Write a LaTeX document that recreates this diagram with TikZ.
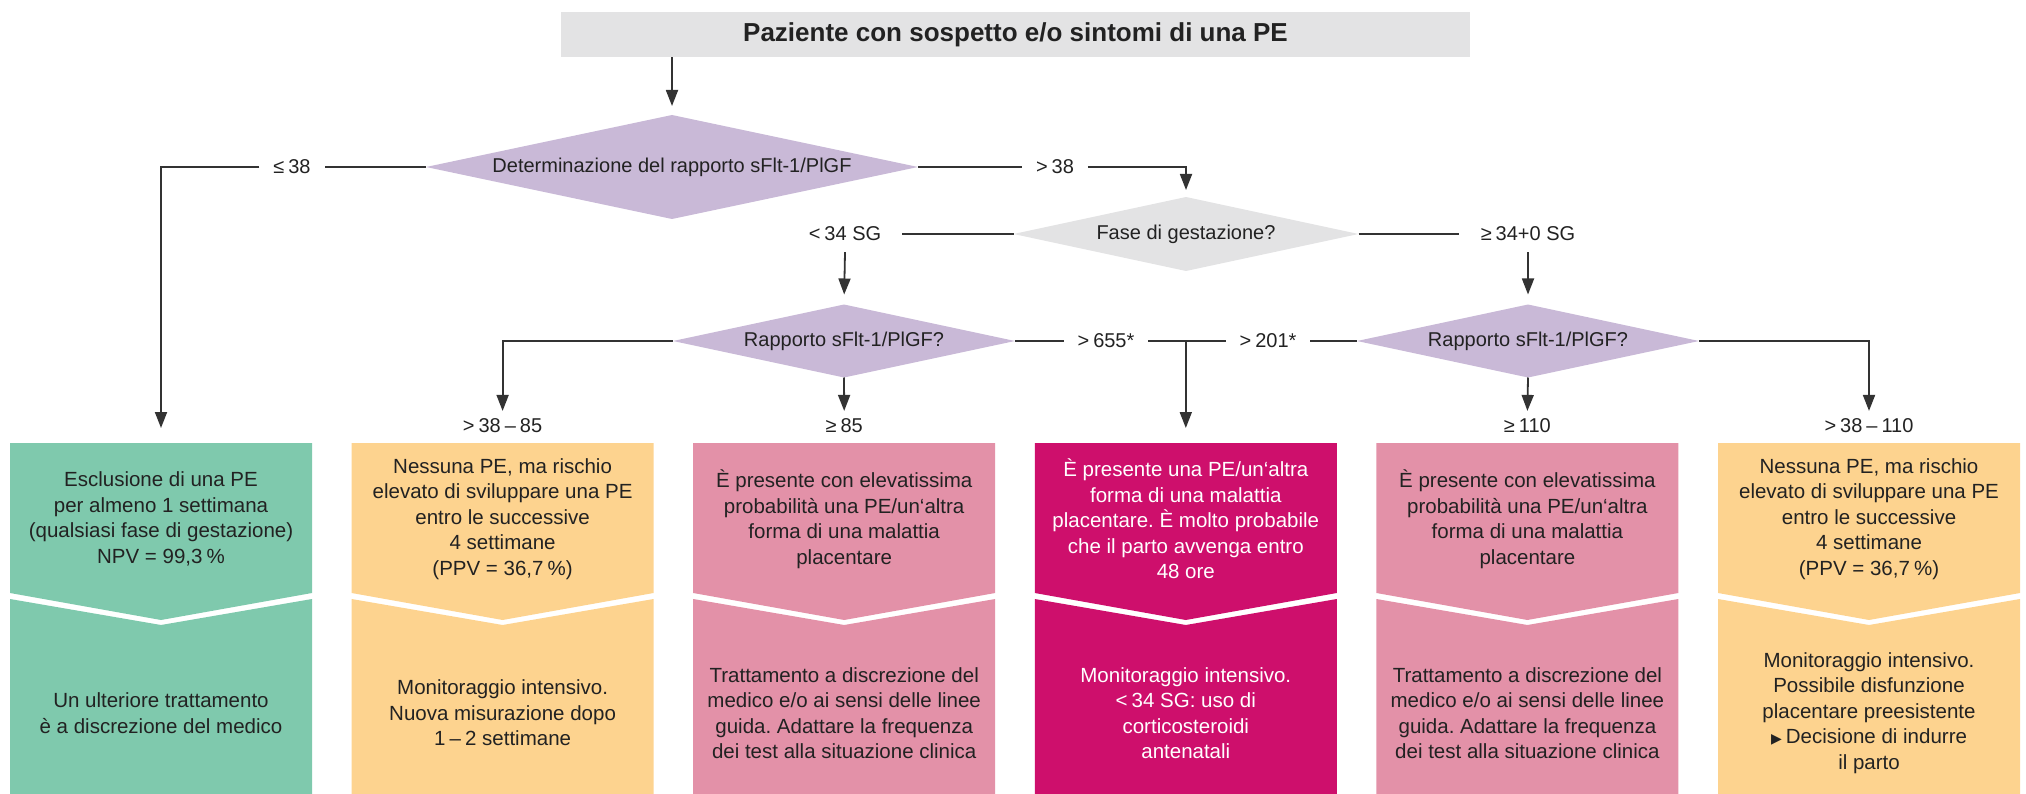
\documentclass[tikz,border=0pt]{standalone}
\usepackage{fontspec}
\setmainfont{Liberation Sans}
\newfontfamily\dejavu{DejaVu Sans}
\usetikzlibrary{shapes.geometric,arrows.meta}
\definecolor{cgreen}{HTML}{7FC9AD}
\definecolor{cyellow}{HTML}{FDD38F}
\definecolor{cpink}{HTML}{E391A8}
\definecolor{cmag}{HTML}{CE0F6C}
\definecolor{cpurple}{HTML}{C9B9D7}
\definecolor{cgray}{HTML}{E3E3E4}
\definecolor{cline}{HTML}{333333}
\definecolor{ctext}{HTML}{222222}
\newcommand\tsp{\hspace{0.2em}}
\frenchspacing
\begin{document}
\begin{tikzpicture}[x=1pt,y=-1pt,
  every node/.style={font=\fontsize{20}{25.5}\selectfont, text=ctext},
  dia/.style={diamond, aspect=5, inner sep=0pt, outer sep=0pt, draw=none},
  lbl/.style={inner xsep=14pt, inner ysep=8pt, outer sep=0pt},
  conn/.style={draw=cline, line width=1.8pt},
  arr/.style={conn, -{Triangle[length=16pt,width=12pt]}},
  boxtxt/.style={align=center, inner sep=0pt, font=\fontsize{20.5}{25.5}\selectfont},
]
\useasboundingbox (0,0) rectangle (2026,794);

% boxes
\foreach \i/\col in {0/cgreen,1/cyellow,2/cpink,3/cmag,4/cpink,5/cyellow} {
  \pgfmathsetmacro\L{10+341.6*\i}
  \pgfmathsetmacro\R{\L+302}
  \pgfmathsetmacro\C{\L+151}
  \fill[\col] (\L,443) -- (\R,443) -- (\R,593) -- (\C,620) -- (\L,593) -- cycle;
  \fill[\col] (\L,599) -- (\C,625) -- (\R,599) -- (\R,794) -- (\L,794) -- cycle;
}

% title
\node[fill=cgray, minimum width=909pt, minimum height=45pt, inner sep=0pt,
      font=\fontsize{26}{30}\selectfont\bfseries] (title) at (1015.5,34.5)
      {Paziente con sospetto e/o sintomi di una PE};

% diamonds
\node[dia, fill=cpurple, minimum width=492pt, minimum height=104pt] (d1) at (672,167) {Determinazione del rapporto sFlt-1/PlGF};
\node[dia, fill=cgray, minimum width=345pt, minimum height=74pt] (d2) at (1186,234) {Fase di gestazione?};
\node[dia, fill=cpurple, minimum width=342pt, minimum height=73pt] (d3) at (844,341) {Rapporto sFlt-1/PlGF?};
\node[dia, fill=cpurple, minimum width=342pt, minimum height=73pt] (d4) at (1528,341) {Rapporto sFlt-1/PlGF?};

% labels
\node[lbl] (le38) at (292,167) {≤\tsp38};
\node[lbl] (gt38) at (1055,167) {>\tsp38};
\node[lbl, inner xsep=21pt, inner ysep=11pt] (lt34) at (845,234) {<\tsp34 SG};
\node[lbl, inner xsep=22pt, inner ysep=11pt] (ge34) at (1528,234) {≥\tsp34+0 SG};
\node[lbl] (g655) at (1106,341) {>\tsp655*};
\node[lbl] (g201) at (1268,341) {>\tsp201*};
\node[lbl] (r85) at (502.6,426) {>\tsp38\tsp–\tsp85};
\node[lbl] (ge85) at (844.2,426) {≥\tsp85};
\node[lbl] (ge110) at (1527.4,426) {≥\tsp110};
\node[lbl] (r110) at (1869,426) {>\tsp38\tsp–\tsp110};
\coordinate (t1) at (161,428);
\coordinate (t4) at (1185.8,428);

% connectors
\draw[arr, shorten >=9pt] (title.south -| d1.north) -- (d1.north);
\draw[conn] (d1.west) -- (le38.east);
\draw[arr] (le38.west) -| (t1);
\draw[conn] (d1.east) -- (gt38.west);
\draw[arr, shorten >=7pt] (gt38.east) -| (d2.north);
\draw[conn] (d2.west) -- (lt34.east);
\draw[conn] (d2.east) -- (ge34.west);
\draw[arr, shorten >=10pt] (lt34.south) -- (d3.north);
\draw[arr, shorten >=10pt] (ge34.south) -- (d4.north);
\draw[conn] (d3.east) -- (g655.west);
\draw[conn] (g655.east) -- (g201.west);
\draw[conn] (g201.east) -- (d4.west);
\draw[arr] (g655.east -| t4) -- (t4);
\draw[arr] (d3.west) -| (r85.north);
\draw[arr] (d3.south) -- (ge85.north);
\draw[arr] (d4.south) -- (ge110.north);
\draw[arr] (d4.east) -| (r110.north);

% box texts
\node[boxtxt] (b1u) at (161,519) {Esclusione di una PE\\per almeno 1 settimana\\(qualsiasi fase di gestazione)\\NPV = 99,3\tsp\%};
\node[boxtxt] (b1l) at (161,713) {Un ulteriore trattamento\\è a discrezione del medico};
\node[boxtxt] (b2u) at (502.6,519) {Nessuna PE, ma rischio\\elevato di sviluppare una PE\\entro le successive\\4 settimane\\(PPV = 36,7\tsp\%)};
\node[boxtxt] (b2l) at (502.6,713) {Monitoraggio intensivo.\\Nuova misurazione dopo\\1\tsp–\tsp2 settimane};
\node[boxtxt] (b3u) at (844.2,519) {È presente con elevatissima\\probabilità una PE/un‘altra\\forma di una malattia\\placentare};
\node[boxtxt] (b3l) at (844.2,713) {Trattamento a discrezione del\\medico e/o ai sensi delle linee\\guida. Adattare la frequenza\\dei test alla situazione clinica};
\node[boxtxt, text=white] (b4u) at (1185.8,519) {È presente una PE/un‘altra\\forma di una malattia\\placentare. È molto probabile\\che il parto avvenga entro\\48 ore};
\node[boxtxt, text=white] (b4l) at (1185.8,713) {Monitoraggio intensivo.\\<\tsp34 SG: uso di\\corticosteroidi\\antenatali};
\node[boxtxt] (b5u) at (1527.4,519) {È presente con elevatissima\\probabilità una PE/un‘altra\\forma di una malattia\\placentare};
\node[boxtxt] (b5l) at (1527.4,713) {Trattamento a discrezione del\\medico e/o ai sensi delle linee\\guida. Adattare la frequenza\\dei test alla situazione clinica};
\node[boxtxt] (b6u) at (1869,519) {Nessuna PE, ma rischio\\elevato di sviluppare una PE\\entro le successive\\4 settimane\\(PPV = 36,7\tsp\%)};
\node[boxtxt] (b6l) at (1869,713) {Monitoraggio intensivo.\\Possibile disfunzione\\placentare preesistente\\{\dejavu\fontsize{14}{14}\selectfont ▶}\tsp Decisione di indurre\\il parto};
\end{tikzpicture}
\end{document}
